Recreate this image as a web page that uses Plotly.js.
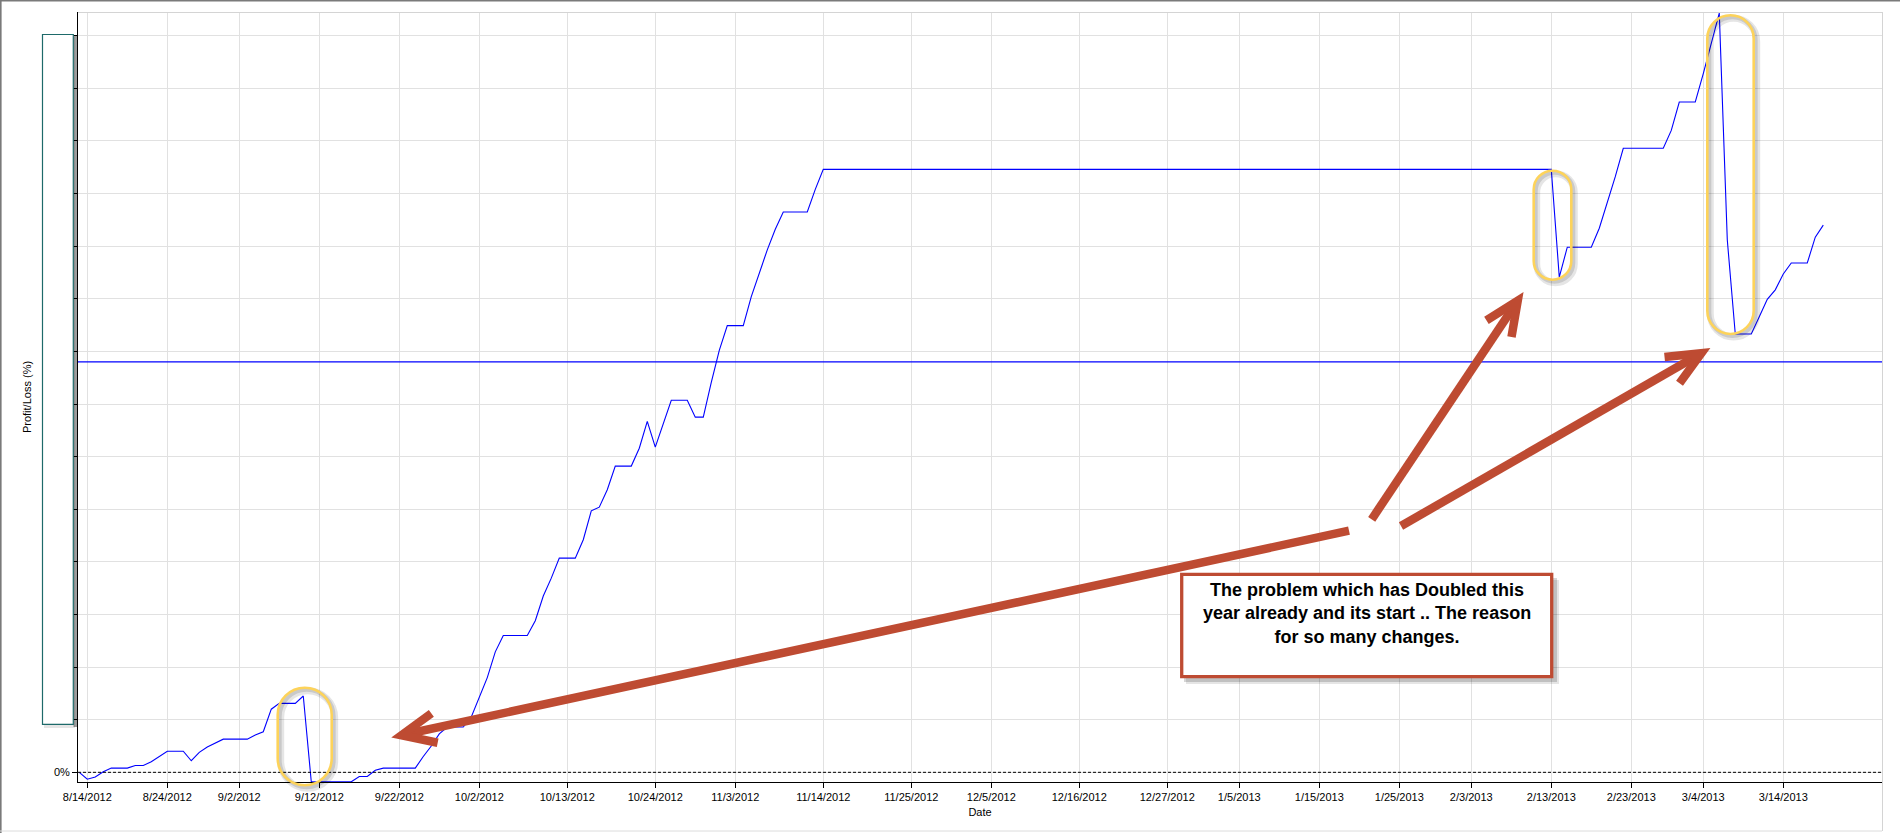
<!DOCTYPE html>
<html>
<head>
<meta charset="utf-8">
<script src="https://cdn.plot.ly/plotly-3.0.1.min.js"></script>
<style>
html,body{margin:0;padding:0;background:#ffffff;}
#chart{width:1900px;height:833px;}
</style>
</head>
<body>
<div id="chart"></div>
<script>
// ---------------- DATA ----------------
const dates = [
  '2012-08-13','2012-08-14','2012-08-15','2012-08-16','2012-08-17','2012-08-18','2012-08-19','2012-08-20',
  '2012-08-21','2012-08-22','2012-08-23','2012-08-24','2012-08-25','2012-08-26','2012-08-27','2012-08-28',
  '2012-08-29','2012-08-30','2012-08-31','2012-09-01','2012-09-02','2012-09-03','2012-09-04','2012-09-05',
  '2012-09-06','2012-09-07','2012-09-08','2012-09-09','2012-09-10','2012-09-11','2012-09-12','2012-09-13',
  '2012-09-14','2012-09-15','2012-09-16','2012-09-17','2012-09-18','2012-09-19','2012-09-20','2012-09-21',
  '2012-09-22','2012-09-23','2012-09-24','2012-09-25','2012-09-26','2012-09-27','2012-09-28','2012-09-29',
  '2012-09-30','2012-10-01','2012-10-02','2012-10-03','2012-10-04','2012-10-05','2012-10-06','2012-10-07',
  '2012-10-08','2012-10-09','2012-10-10','2012-10-11','2012-10-12','2012-10-13','2012-10-14','2012-10-15',
  '2012-10-16','2012-10-17','2012-10-18','2012-10-19','2012-10-20','2012-10-21','2012-10-22','2012-10-23',
  '2012-10-24','2012-10-25','2012-10-26','2012-10-27','2012-10-28','2012-10-29','2012-10-30','2012-10-31',
  '2012-11-01','2012-11-02','2012-11-03','2012-11-04','2012-11-05','2012-11-06','2012-11-07','2012-11-08',
  '2012-11-09','2012-11-10','2012-11-11','2012-11-12','2012-11-13','2012-11-14',
  '2013-02-13','2013-02-14','2013-02-15','2013-02-16','2013-02-17','2013-02-18','2013-02-19','2013-02-20',
  '2013-02-21','2013-02-22','2013-02-23','2013-02-24','2013-02-25','2013-02-26','2013-02-27','2013-02-28',
  '2013-03-01','2013-03-02','2013-03-03','2013-03-04','2013-03-05','2013-03-06','2013-03-07','2013-03-08',
  '2013-03-09','2013-03-10','2013-03-11','2013-03-12','2013-03-13','2013-03-14','2013-03-15','2013-03-16',
  '2013-03-17','2013-03-18','2013-03-19'
];
const profitLoss = [
  0, -1.3, -0.9, 0.1, 0.8, 0.8, 0.8, 1.3,
  1.3, 2.0, 3.0, 4.0, 4.0, 4.0, 2.2, 3.8,
  4.8, 5.6, 6.3, 6.3, 6.3, 6.3, 7.1, 7.7,
  12.0, 13.1, 13.1, 13.1, 14.5, -1.8, -1.8, -1.8,
  -1.8, -1.8, -1.8, -0.8, -0.8, 0.4, 0.8, 0.8,
  0.8, 0.8, 0.8, 3.0, 5.0, 7.3, 8.6, 8.6,
  8.6, 10.5, 14.3, 18.0, 22.9, 26.0, 26.0, 26.0,
  26.0, 28.8, 33.5, 36.9, 40.7, 40.7, 40.7, 44.2,
  49.7, 50.4, 53.7, 58.2, 58.2, 58.2, 61.6, 66.7,
  61.8, 66.3, 70.7, 70.7, 70.7, 67.5, 67.5, 74.1,
  80.2, 84.9, 84.9, 84.9, 90.4, 94.9, 99.3, 103.2,
  106.5, 106.5, 106.5, 106.5, 110.8, 114.6,
  114.6, 94.1, 99.8, 99.8, 99.8, 99.8, 103.4, 108.2,
  113.2, 118.6, 118.6, 118.6, 118.6, 118.6, 118.6, 122.0,
  127.4, 127.4, 127.4, 132.8, 138.6, 144.3, 101.2, 83.3,
  83.3, 83.3, 86.6, 89.9, 91.7, 94.7, 96.8, 96.8,
  96.8, 101.7, 104.0
];
const tickDates = [
  '2012-08-14','2012-08-24','2012-09-02','2012-09-12','2012-09-22','2012-10-02','2012-10-13','2012-10-24',
  '2012-11-03','2012-11-14','2012-11-25','2012-12-05','2012-12-16','2012-12-27','2013-01-05','2013-01-15',
  '2013-01-25','2013-02-03','2013-02-13','2013-02-23','2013-03-04','2013-03-14'
];
const tickLabels = [
  '8/14/2012','8/24/2012','9/2/2012','9/12/2012','9/22/2012','10/2/2012','10/13/2012','10/24/2012',
  '11/3/2012','11/14/2012','11/25/2012','12/5/2012','12/16/2012','12/27/2012','1/5/2013','1/15/2013',
  '1/25/2013','2/3/2013','2/13/2013','2/23/2013','3/4/2013','3/14/2013'
];
const yTickVals = [0,10,20,30,40,50,60,70,80,90,100,110,120,130,140];
const yTickLabels = ['0%','','','','','','','','','','','','','',''];
const referenceLevel = 78;
const noteText = 'The problem which has Doubled this<br>year already and its start .. The reason<br>for so many changes.';

// ---------------- GEOMETRY HELPERS (layout only) ----------------
const W = 1900, H = 833, ML = 78, MR = 18, MT = 12, MB = 51;
const PW = W - ML - MR, PH = H - MT - MB;
function fx(px){ return (px - ML) / PW; }
function fy(py){ return (H - MB - py) / PH; }
function pt(x, y){ return fx(x).toFixed(5) + ',' + fy(y).toFixed(5); }

function stadiumPath(x0, y0, x1, y1){
  const r = (x1 - x0) / 2, k = 0.5523, cx = (x0 + x1) / 2;
  return 'M' + pt(x0, y0 + r) +
    ' C' + pt(x0, y0 + r - k*r) + ' ' + pt(cx - k*r, y0) + ' ' + pt(cx, y0) +
    ' C' + pt(cx + k*r, y0) + ' ' + pt(x1, y0 + r - k*r) + ' ' + pt(x1, y0 + r) +
    ' L' + pt(x1, y1 - r) +
    ' C' + pt(x1, y1 - r + k*r) + ' ' + pt(cx + k*r, y1) + ' ' + pt(cx, y1) +
    ' C' + pt(cx - k*r, y1) + ' ' + pt(x0, y1 - r + k*r) + ' ' + pt(x0, y1 - r) + ' Z';
}
function rectPath(x0, y0, x1, y1){
  return 'M' + pt(x0, y0) + ' L' + pt(x1, y0) + ' L' + pt(x1, y1) + ' L' + pt(x0, y1) + ' Z';
}

const ARROW = '#be4b32', GOLD = '#fdd35a';
const shapes = [];
function paperShape(o){ return Object.assign({xref:'paper', yref:'paper', layer:'above'}, o); }

// outer frame
shapes.push(paperShape({type:'path', path:'M' + pt(0,0.7) + ' L' + pt(1900,0.7), line:{color:'#7a7a7a', width:1.6}}));
shapes.push(paperShape({type:'path', path:'M' + pt(0.8,0) + ' L' + pt(0.8,833), line:{color:'#7a7a7a', width:1.6}}));
shapes.push(paperShape({type:'path', path:'M' + pt(0,831) + ' L' + pt(1882,831), line:{color:'#dcdcdc', width:1}}));
shapes.push(paperShape({type:'path', path:'M' + pt(1882.5,12) + ' L' + pt(1882.5,831), line:{color:'#d4d4d4', width:1}}));
shapes.push(paperShape({type:'path', path:'M' + pt(78,12.5) + ' L' + pt(1882,12.5), line:{color:'#d4d4d4', width:1}}));

// cover panel over y tick labels
shapes.push(paperShape({type:'path', layer:'below', path:rectPath(73.5, 36, 78, 727), fillcolor:'#9c9c9c', line:{width:0}}));
shapes.push(paperShape({type:'path', path:rectPath(44, 37, 75, 728), fillcolor:'rgba(0,0,0,0.10)', line:{width:0}}));
shapes.push(paperShape({type:'path', path:rectPath(42.5, 34.5, 73.3, 724.3), fillcolor:'#ffffff', line:{color:'#1e6a6a', width:1.2}}));

// zero line & reference line
shapes.push({type:'line', xref:'paper', yref:'y', x0:0, x1:1, y0:0, y1:0, layer:'above', line:{color:'#000000', width:1, dash:'3px,2px'}});
shapes.push({type:'line', xref:'paper', yref:'y', x0:0, x1:1, y0:referenceLevel, y1:referenceLevel, layer:'above', line:{color:'#0000ff', width:1.2}});

// highlight ovals
const ovals = [[277.7,687.7,331.7,785.3],[1533.7,170.7,1571.3,279.7],[1707.3,15.3,1753.7,334]];
ovals.forEach(function(o){
  shapes.push(paperShape({type:'path', path:stadiumPath(o[0]+3,o[1]+3,o[2]+3,o[3]+3), line:{color:'rgba(0,0,0,0.10)', width:7}}));
  shapes.push(paperShape({type:'path', path:stadiumPath(o[0]+2,o[1]+2,o[2]+2,o[3]+2), line:{color:'rgba(0,0,0,0.12)', width:4}}));
  shapes.push(paperShape({type:'path', path:stadiumPath(o[0],o[1],o[2],o[3]), line:{color:GOLD, width:2.6}}));
});

// arrows
function arrowShapes(sx, sy, tx, ty){
  const dx = tx - sx, dy = ty - sy, len = Math.hypot(dx, dy);
  const ux = dx/len, uy = dy/len;
  const vx = tx - ux*10, vy = ty - uy*10;
  const a = 24 * Math.PI/180, L = 37;
  function rot(ang){ return [ux*Math.cos(ang) - uy*Math.sin(ang), ux*Math.sin(ang) + uy*Math.cos(ang)]; }
  const r1 = rot(a), r2 = rot(-a);
  const a1 = [vx - r1[0]*L, vy - r1[1]*L], a2 = [vx - r2[0]*L, vy - r2[1]*L];
  shapes.push(paperShape({type:'path', path:'M' + pt(sx,sy) + ' L' + pt(vx - ux*2, vy - uy*2), line:{color:ARROW, width:8.5}}));
  shapes.push(paperShape({type:'path', path:'M' + pt(a1[0],a1[1]) + ' L' + pt(vx,vy) + ' L' + pt(a2[0],a2[1]), line:{color:ARROW, width:8.5}}));
}
arrowShapes(1349, 530.7, 391.7, 737.3);
arrowShapes(1371.7, 519.3, 1523.3, 292.3);
arrowShapes(1401, 526, 1710, 348.3);

// note box
shapes.push(paperShape({type:'path', path:rectPath(1186,580,1559,684), fillcolor:'rgba(0,0,0,0.10)', line:{width:0}}));
shapes.push(paperShape({type:'path', path:rectPath(1184,578,1557,682), fillcolor:'rgba(0,0,0,0.16)', line:{width:0}}));
shapes.push(paperShape({type:'path', path:rectPath(1181.7,574.3,1551.7,676.7), fillcolor:'#ffffff', line:{color:ARROW, width:3.3}}));

const trace = {
  type:'scatter', mode:'lines', x:dates, y:profitLoss,
  line:{color:'#0000ff', width:1.1}, hoverinfo:'x+y', showlegend:false
};

const layout = {
  width:W, height:H,
  margin:{l:ML, r:MR, t:MT, b:MB, pad:0},
  paper_bgcolor:'#ffffff', plot_bgcolor:'#ffffff',
  font:{family:'"Liberation Sans", Arial, sans-serif', size:11, color:'#000000'},
  showlegend:false,
  xaxis:{
    type:'date', range:['2012-08-12 20:10','2013-03-26 08:10'],
    tickmode:'array', tickvals:tickDates, ticktext:tickLabels,
    ticks:'outside', ticklen:5, tickcolor:'#000000', tickwidth:1,
    showgrid:true, gridcolor:'#e1e1e1', gridwidth:1,
    showline:true, linecolor:'#000000', linewidth:1,
    zeroline:false, tickfont:{size:11, color:'#000000'},
    title:{text:'Date', font:{size:11, color:'#000000'}, standoff:6}
  },
  yaxis:{
    range:[-1.84, 144.5],
    tickmode:'array', tickvals:yTickVals, ticktext:yTickLabels,
    ticks:'outside', ticklen:5, tickcolor:'#000000', tickwidth:1,
    showgrid:true, gridcolor:'#e1e1e1', gridwidth:1,
    showline:true, linecolor:'#000000', linewidth:1,
    zeroline:false, tickfont:{size:11, color:'#000000'},
    title:{text:'Profit/Loss (%)', font:{size:11, color:'#000000'}, standoff:20}
  },
  shapes:shapes,
  annotations:[{
    xref:'paper', yref:'paper', x:fx(1366.7), y:fy(613.3), xanchor:'center', yanchor:'middle',
    text:'<b>' + noteText + '</b>', showarrow:false, align:'center',
    font:{family:'"Liberation Sans", Arial, sans-serif', size:18, color:'#000000'}
  }]
};

Plotly.newPlot('chart', [trace], layout, {displayModeBar:false, staticPlot:true});
</script>
</body>
</html>
